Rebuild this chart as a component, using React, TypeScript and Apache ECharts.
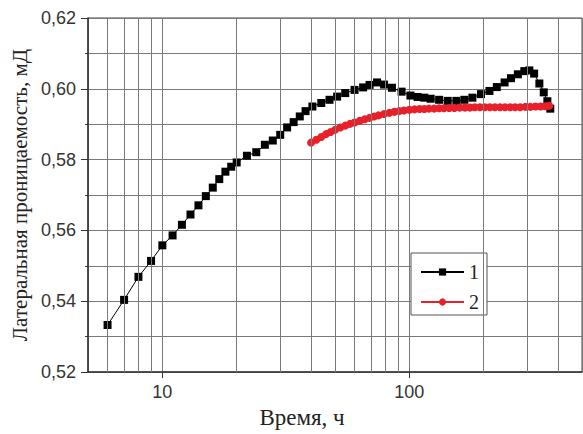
import React, { useEffect, useRef } from 'react';
import * as echarts from 'echarts';

const hours1 = [6, 7, 8, 9, 10, 11, 12, 13, 14, 15, 16, 17, 18, 19, 20, 22, 24, 26, 28, 30, 32, 34, 36, 38, 40.5, 44, 47.5, 51, 55, 60, 65, 69, 74, 79, 85, 93, 101, 108, 115, 122, 132, 143, 155, 167, 180, 195, 211, 226, 243, 258, 275, 292, 306, 320, 336, 350, 362, 372];
const perm1 = [0.5333, 0.5404, 0.5469, 0.5514, 0.5558, 0.5586, 0.5616, 0.5645, 0.5671, 0.5697, 0.5721, 0.5745, 0.5766, 0.578, 0.5792, 0.5811, 0.5821, 0.5842, 0.5854, 0.587, 0.5891, 0.5906, 0.5922, 0.5937, 0.595, 0.596, 0.5969, 0.5978, 0.5988, 0.5997, 0.6004, 0.6011, 0.6018, 0.6012, 0.6003, 0.5992, 0.5981, 0.5977, 0.5975, 0.5972, 0.5969, 0.5966, 0.5966, 0.5969, 0.5975, 0.5985, 0.5994, 0.6005, 0.6018, 0.603, 0.6041, 0.605, 0.6052, 0.6043, 0.6015, 0.599, 0.5965, 0.5944];

const hours2 = [40, 42, 44, 46, 48, 50, 52.5, 55, 57.5, 60, 63, 66, 69, 72, 75, 79, 83, 87, 91, 95, 100, 105, 110, 115, 120, 126, 132, 138, 145, 152, 160, 168, 176, 184, 193, 202, 212, 222, 233, 244, 256, 268, 281, 295, 309, 324, 340, 355, 368];
const perm2 = [0.5848, 0.5856, 0.5864, 0.5872, 0.5878, 0.5884, 0.5891, 0.5896, 0.5901, 0.5905, 0.591, 0.5914, 0.5918, 0.5922, 0.5925, 0.5929, 0.5932, 0.5935, 0.5937, 0.5939, 0.5941, 0.5942, 0.5943, 0.5943, 0.5944, 0.5944, 0.5945, 0.5945, 0.5946, 0.5946, 0.5947, 0.5947, 0.5947, 0.5948, 0.5948, 0.5948, 0.5948, 0.5948, 0.5948, 0.5948, 0.5948, 0.5948, 0.5948, 0.5949, 0.5949, 0.595, 0.595, 0.5951, 0.5952];

const seriesNames = ['1', '2'];
const xLabelHours = [10, 100];
const minorGridHours = [6, 7, 8, 9, 20, 30, 40, 50, 60, 70, 80, 90, 200, 300, 400];
const xTitle = 'Время, ч';
const yTitle = 'Латеральная проницаемость, мД';

export default function App() {
  const ref = useRef<HTMLDivElement>(null);
  useEffect(() => {
    const chart = echarts.init(ref.current!, null, { renderer: 'svg' });
    const gridColor = '#7a7a7a';
    const axisColor = '#333';
    chart.setOption({
      animation: false,
      backgroundColor: '#fff',
      grid: {
        left: 88, top: 18, width: 494, height: 361,
        show: true, borderColor: '#444', borderWidth: 1, backgroundColor: 'transparent',
      },
      legend: {
        data: seriesNames,
        orient: 'vertical',
        left: 411, top: 253,
        itemWidth: 43, itemHeight: 9, itemGap: 10,
        padding: [9, 8, 3, 9],
        backgroundColor: '#fff',
        borderColor: '#555', borderWidth: 1, borderRadius: 0,
        textStyle: { fontFamily: 'Liberation Serif', fontSize: 20, lineHeight: 16, color: '#222' },
      },
      xAxis: {
        type: 'log', logBase: 10, min: 5, max: 500,
        name: xTitle, nameLocation: 'middle', nameGap: 28,
        nameTextStyle: { fontFamily: 'Liberation Serif', fontSize: 23, color: '#222', padding: [0, 66, 0, 0] },
        axisLine: { show: true, onZero: false, lineStyle: { color: axisColor, width: 1.5 } },
        axisTick: { show: true, inside: false, length: 6, lineStyle: { color: axisColor } },
        axisLabel: {
          fontFamily: 'Liberation Sans', fontSize: 18, color: '#333', margin: 11,
          showMinLabel: false, showMaxLabel: false,
          formatter: (v: number) => (xLabelHours.some((h) => Math.abs(h - v) < 1e-6) ? String(Math.round(v)) : ''),
        },
        splitLine: { show: true, lineStyle: { color: gridColor, width: 1 } },
      },
      yAxis: {
        type: 'value', min: 0.52, max: 0.62, interval: 0.02,
        name: yTitle, nameLocation: 'middle', nameGap: 57, nameRotate: 90,
        nameTextStyle: { fontFamily: 'Liberation Serif', fontSize: 21, color: '#222' },
        axisLine: { show: true, lineStyle: { color: axisColor, width: 1.5 } },
        axisTick: { show: true, inside: false, length: 7, lineStyle: { color: axisColor } },
        minorTick: { show: true, splitNumber: 2, length: 3, lineStyle: { color: axisColor } },
        axisLabel: {
          fontFamily: 'Liberation Sans', fontSize: 18, color: '#333', margin: 12,
          formatter: (v: number) => v.toFixed(2).replace('.', ','),
        },
        splitLine: { show: true, lineStyle: { color: gridColor, width: 1 } },
        minorSplitLine: { show: true, lineStyle: { color: gridColor, width: 1 } },
      },
      series: [
        {
          type: 'line', name: '', data: [], clip: false, silent: true,
          markLine: {
            silent: true, symbol: 'none', animation: false,
            label: { show: false },
            lineStyle: { color: gridColor, width: 1, type: 'solid' },
            data: minorGridHours.map((h) => ({ xAxis: h })),
          },
        },
        {
          type: 'line', name: '', data: [], clip: false, silent: true, z: 5,
          markLine: {
            silent: true, symbol: 'none', animation: false,
            label: { show: false },
            lineStyle: { color: axisColor, width: 1, type: 'solid' },
            data: minorGridHours.map((h) => [{ coord: [h, 0.52] }, { coord: [h, 0.519] }]),
          },
        },
        {
          type: 'line', name: seriesNames[0],
          data: hours1.map((h, i) => [h, perm1[i]]),
          symbol: 'rect', symbolSize: 8,
          itemStyle: { color: '#000' },
          lineStyle: { color: '#000', width: 1 },
          z: 3,
        },
        {
          type: 'line', name: seriesNames[1],
          data: hours2.map((h, i) => [h, perm2[i]]),
          symbol: 'circle', symbolSize: 8,
          itemStyle: { color: '#e8202a' },
          lineStyle: { color: '#e8202a', width: 1 },
          z: 4,
        },
      ],
    });
    return () => chart.dispose();
  }, []);
  return <div ref={ref} style={{ position: 'absolute', left: 0, top: 0, width: 583, height: 434 }} />;
}
